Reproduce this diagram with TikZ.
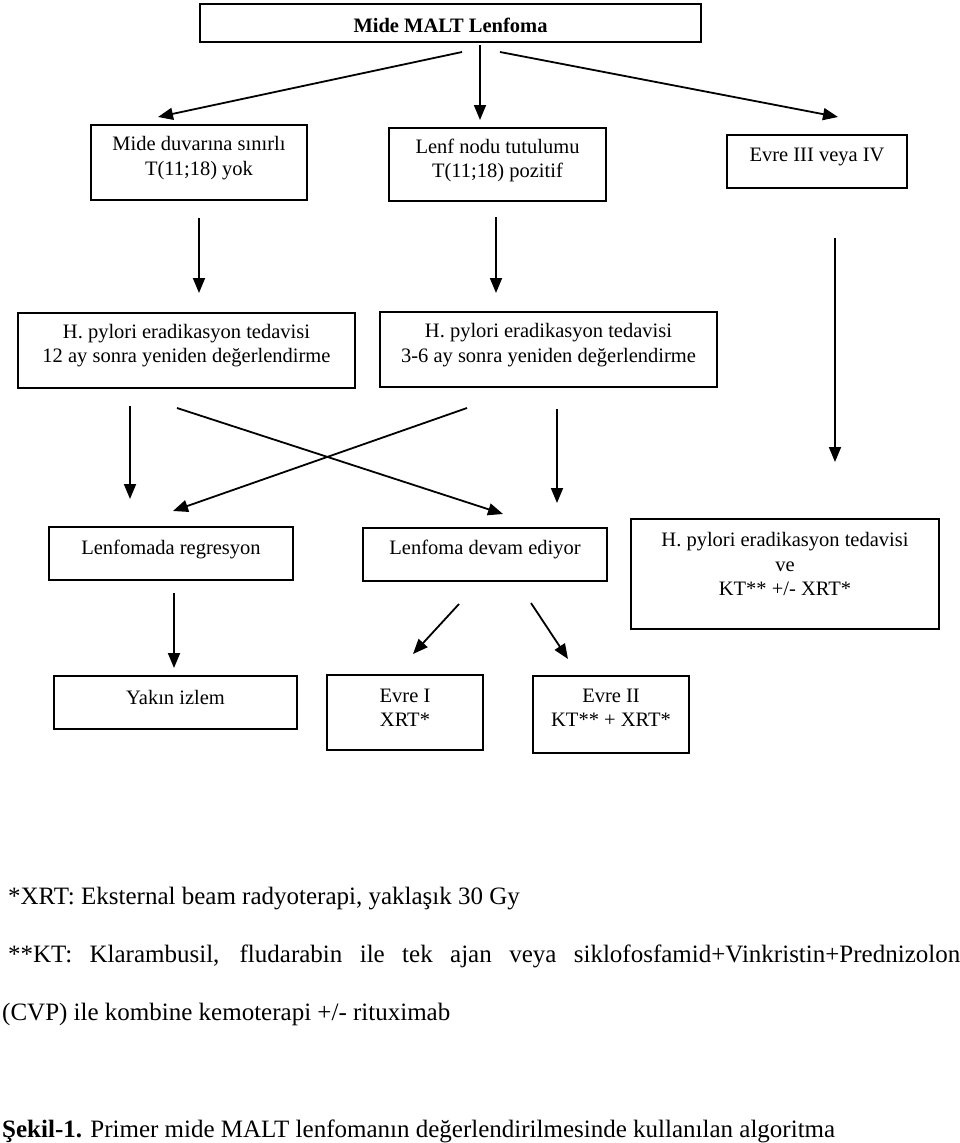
\documentclass[tikz,border=0pt]{standalone}
\usepackage{fontspec}
\setmainfont{Liberation Serif}
\usetikzlibrary{arrows.meta}
\begin{document}
\begin{tikzpicture}[x=1pt,y=-1pt,
  box/.style={draw=black, line width=1.3pt, inner sep=0pt},
  txt/.style={align=center, inner sep=0pt, font=\fontsize{20.5}{24.5}\selectfont},
  arr/.style={line width=1.8pt, -{Triangle[length=15pt,width=12pt]}},
  foot/.style={anchor=base west, inner sep=0pt, font=\fontsize{25}{30}\selectfont}]
\useasboundingbox (0,0) rectangle (960,1143);
% boxes
\node[box, minimum width=501pt, minimum height=38pt] (top) at (450.5,23) {};
\node[txt, font=\fontsize{20.5}{24.5}\selectfont\bfseries] (top-t) at (450.5,25) {Mide MALT Lenfoma};
\node[box, minimum width=216pt, minimum height=75pt] (b1) at (199,162.5) {};
\node[txt] (b1-t) at (199,158) {Mide duvarına sınırlı\\T(11;18) yok};
\node[box, minimum width=217pt, minimum height=73pt] (b2) at (497.5,164.5) {};
\node[txt] (b2-t) at (497.5,160.5) {Lenf nodu tutulumu\\T(11;18) pozitif};
\node[box, minimum width=180pt, minimum height=53pt] (b3) at (817,161.5) {};
\node[txt] (b3-t) at (817,157) {Evre III veya IV};
\node[box, minimum width=337pt, minimum height=75pt] (b4) at (186.5,350.5) {};
\node[txt] (b4-t) at (186.5,345.5) {H. pylori eradikasyon tedavisi\\12 ay sonra yeniden değerlendirme};
\node[box, minimum width=337pt, minimum height=75pt] (b5) at (548.5,349.5) {};
\node[txt] (b5-t) at (548.5,345) {H. pylori eradikasyon tedavisi\\3-6 ay sonra yeniden değerlendirme};
\node[box, minimum width=244pt, minimum height=53pt] (b6) at (171,553.5) {};
\node[txt] (b6-t) at (171,549) {Lenfomada regresyon};
\node[box, minimum width=244pt, minimum height=53pt] (b7) at (485,554.5) {};
\node[txt] (b7-t) at (485,549) {Lenfoma devam ediyor};
\node[box, minimum width=308pt, minimum height=110pt] (b8) at (785,574) {};
\node[txt] (b8-t) at (785,564) {H. pylori eradikasyon tedavisi\\ve\\KT** +/- XRT*};
\node[box, minimum width=243pt, minimum height=53pt] (b9) at (175.5,702.5) {};
\node[txt] (b9-t) at (175.5,697) {Yakın izlem};
\node[box, minimum width=156pt, minimum height=75pt] (b10) at (405,712.5) {};
\node[txt] (b10-t) at (405,708) {Evre I\\XRT*};
\node[box, minimum width=156pt, minimum height=77pt] (b11) at (611,714.5) {};
\node[txt] (b11-t) at (611,708) {Evre II\\KT** + XRT*};
% arrow end points
\coordinate (a1s) at (462,52);  \coordinate (a1e) at (158,117);
\coordinate (a2s) at (480,45);  \coordinate (a2e) at (480,120);
\coordinate (a3s) at (500,52);  \coordinate (a3e) at (838,117);
\coordinate (a4s) at (199,218); \coordinate (a4e) at (199,293);
\coordinate (a5s) at (496,217); \coordinate (a5e) at (496,293);
\coordinate (a6s) at (835,238); \coordinate (a6e) at (835,462);
\coordinate (a7s) at (130,406); \coordinate (a7e) at (130,499);
\coordinate (a8s) at (177,408); \coordinate (a8e) at (503,514);
\coordinate (a9s) at (467,408); \coordinate (a9e) at (173,511);
\coordinate (a10s) at (557,409); \coordinate (a10e) at (557,503);
\coordinate (a11s) at (174,593); \coordinate (a11e) at (174,668);
\coordinate (a12s) at (459,604); \coordinate (a12e) at (413,654);
\coordinate (a13s) at (531,603); \coordinate (a13e) at (568,659);
\foreach \i in {1,...,13} {\draw[arr] (a\i s) -- (a\i e);}
% footnotes
\node[foot] (f1) at (8,904) {*XRT: Eksternal beam radyoterapi, yaklaşık 30 Gy};
\node[foot] (f2) at (8,962) {\makebox[952pt][s]{**KT: Klarambusil, fludarabin ile tek ajan veya siklofosfamid+Vinkristin+Prednizolon}};
\node[foot] (f3) at (2,1020) {(CVP) ile kombine kemoterapi +/- rituximab};
\node[foot] (f4) at (2,1137) {\textbf{Şekil-1.} Primer mide MALT lenfomanın değerlendirilmesinde kullanılan algoritma};
\end{tikzpicture}
\end{document}
